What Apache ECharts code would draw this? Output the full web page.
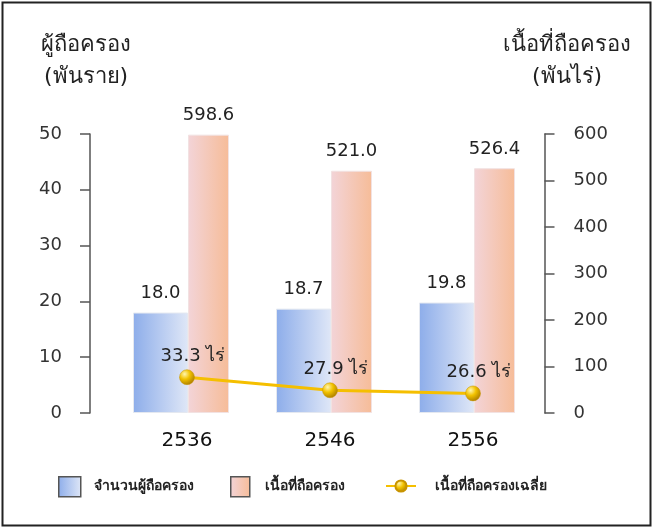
<!DOCTYPE html>
<html>
<head>
<meta charset="utf-8">
<script src="https://cdn.jsdelivr.net/npm/echarts@6/dist/echarts.min.js"></script>
<style>
  html, body { margin: 0; padding: 0; background: #fff; }
  #chart { width: 655px; height: 529px; }
</style>
</head>
<body>
<div id="chart"></div>
<script>
// ข้อมูล
const years = ['2536', '2546', '2556'];
const holders = [18.0, 18.7, 19.8];        // พันราย
const area = [598.6, 521.0, 526.4];        // พันไร่
const avgArea = [33.3, 27.9, 26.6];        // ไร่ต่อราย
const leftTicks = { min: 0, max: 50, interval: 10 };
const rightTicks = { min: 0, max: 600, interval: 100 };

const FONT = "Tahoma, 'DejaVu Sans', 'Noto Sans', sans-serif";

const chart = echarts.init(document.getElementById('chart'));

const blueFill = new echarts.graphic.LinearGradient(0, 0, 1, 0, [
    { offset: 0, color: '#8dadea' },
    { offset: 1, color: '#dfe7f7' }
]);
const pinkFill = new echarts.graphic.LinearGradient(0, 0, 1, 0, [
    { offset: 0, color: '#f3d4d8' },
    { offset: 1, color: '#f6bc98' }
]);
const ballFill = new echarts.graphic.RadialGradient(0.35, 0.3, 0.75, [
    { offset: 0, color: '#fff6b0' },
    { offset: 0.45, color: '#f2c200' },
    { offset: 1, color: '#a87a00' }
]);

const titleStyle = { fontSize: 22, fontWeight: 'normal', color: '#222', lineHeight: 32, fontFamily: FONT };
const legendText = { fontSize: 14, color: '#222', fontWeight: 'bold' };

const option = {
    animation: false,
    textStyle: { fontFamily: FONT },
    title: [
        { text: 'ผู้ถือครอง\n(พันราย)', left: 81, top: 24, textAlign: 'center', textStyle: titleStyle },
        { text: 'เนื้อที่ถือครอง\n(พันไร่)', left: 562, top: 24, textAlign: 'center', textStyle: titleStyle }
    ],
    legend: [
        {
            data: [{ name: 'จำนวนผู้ถือครอง', itemStyle: { color: blueFill, borderColor: '#555', borderWidth: 1.5 } }],
            left: 58, top: 476, padding: 0, itemWidth: 22, itemHeight: 20, icon: 'rect',
            textStyle: Object.assign({ padding: [0, 0, 0, 8] }, legendText)
        },
        {
            data: [{ name: 'เนื้อที่ถือครอง', itemStyle: { color: pinkFill, borderColor: '#555', borderWidth: 1.5 } }],
            left: 230, top: 476, padding: 0, itemWidth: 19, itemHeight: 20, icon: 'rect',
            textStyle: Object.assign({ padding: [0, 0, 0, 10] }, legendText)
        },
        {
            data: ['เนื้อที่ถือครองเฉลี่ย'],
            left: 385, top: 479, padding: 0, itemWidth: 30, itemHeight: 14,
            textStyle: Object.assign({ padding: [0, 0, 0, 14] }, legendText)
        }
    ],
    graphic: [
        {
            type: 'rect',
            shape: { x: 2.5, y: 2.5, width: 648, height: 523 },
            style: { fill: 'none', stroke: '#222', lineWidth: 2 },
            silent: true
        }
    ],
    grid: { left: 115.5, right: 110.5, top: 134, bottom: 116 },
    xAxis: {
        type: 'category',
        data: years,
        axisLine: { show: false },
        axisTick: { show: false },
        axisLabel: { fontSize: 20, color: '#111', margin: 18 }
    },
    yAxis: [
        {
            type: 'value',
            position: 'left',
            offset: 25.5,
            min: leftTicks.min, max: leftTicks.max, interval: leftTicks.interval,
            splitLine: { show: false },
            axisLine: { show: true, lineStyle: { color: '#555', width: 1.5 } },
            axisTick: { show: true, length: 10, lineStyle: { color: '#555', width: 1.5 } },
            axisLabel: { fontSize: 18, color: '#333', margin: 28 }
        },
        {
            type: 'value',
            position: 'right',
            min: rightTicks.min, max: rightTicks.max, interval: rightTicks.interval,
            splitLine: { show: false },
            axisLine: { show: true, lineStyle: { color: '#555', width: 1.5 } },
            axisTick: { show: true, length: 10, lineStyle: { color: '#555', width: 1.5 } },
            axisLabel: { fontSize: 18, color: '#333', margin: 29 }
        },
        {
            // แกนซ่อนสำหรับเส้นค่าเฉลี่ย
            type: 'value',
            show: false,
            min: 18.5, max: 133.8,
            splitLine: { show: false }
        }
    ],
    series: [
        {
            name: 'จำนวนผู้ถือครอง',
            type: 'bar',
            yAxisIndex: 0,
            data: holders,
            barWidth: 55,
            barGap: '0%',
            itemStyle: { color: blueFill, borderColor: '#e4e8f0', borderWidth: 1 },
            label: {
                show: true, position: 'top', distance: 10,
                fontSize: 18, color: '#222',
                formatter: p => p.value.toFixed(1)
            }
        },
        {
            name: 'เนื้อที่ถือครอง',
            type: 'bar',
            yAxisIndex: 1,
            data: area,
            barWidth: 41,
            barGap: '0%',
            itemStyle: { color: pinkFill, borderColor: '#f2e2e2', borderWidth: 1 },
            label: {
                show: true, position: 'top', distance: 10,
                fontSize: 18, color: '#222',
                formatter: p => p.value.toFixed(1)
            }
        },
        {
            // ช่องว่างเพื่อเลื่อนกลุ่มแท่งให้ตรงกับต้นฉบับ
            name: '',
            type: 'bar',
            yAxisIndex: 0,
            data: years.map(() => null),
            barWidth: 12,
            barGap: '0%',
            silent: true
        },
        {
            name: 'เนื้อที่ถือครองเฉลี่ย',
            type: 'line',
            yAxisIndex: 2,
            data: avgArea,
            symbol: 'circle',
            symbolSize: 15,
            z: 5,
            lineStyle: { color: '#f5bf00', width: 3 },
            itemStyle: { color: ballFill, borderColor: '#c89400', borderWidth: 0.5 },
            label: {
                show: true, position: 'top', distance: 8, offset: [6, 4],
                fontSize: 18, color: '#222',
                formatter: p => p.value.toFixed(1) + ' ไร่'
            }
        }
    ]
};

chart.setOption(option);
</script>
</body>
</html>
